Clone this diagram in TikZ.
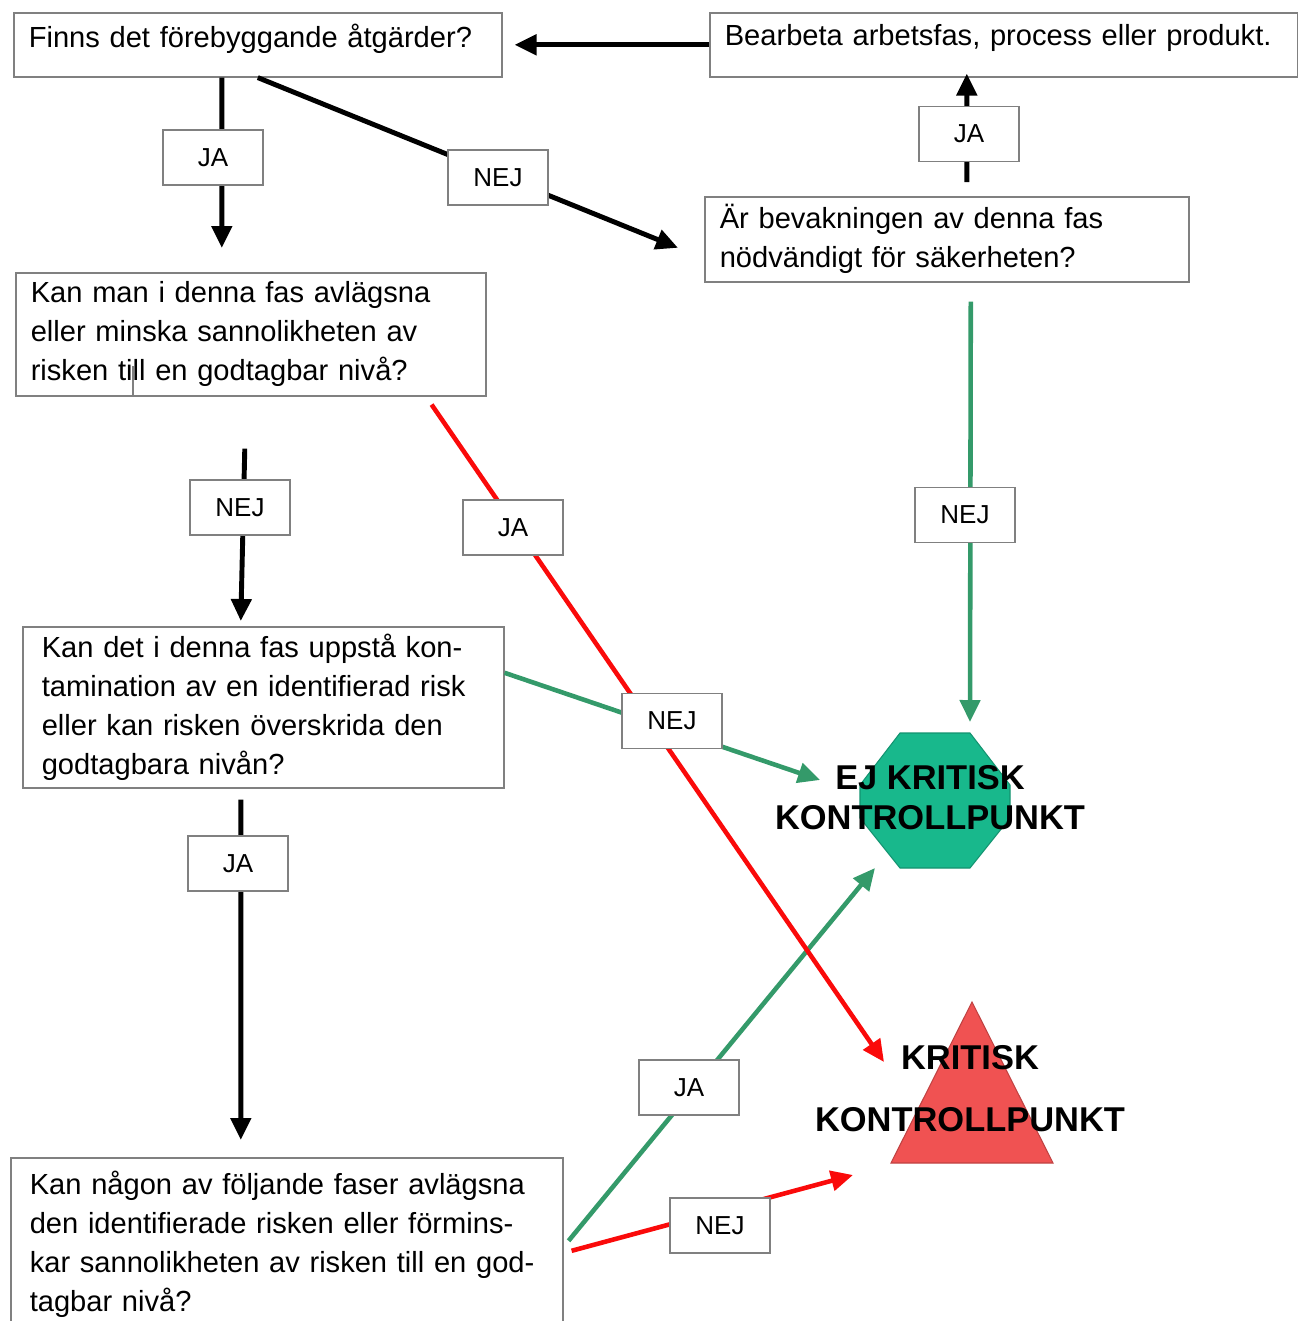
\documentclass[tikz,border=0pt]{standalone}
\usepackage{fontspec}
\setmainfont{Liberation Sans}
\usetikzlibrary{arrows.meta}

\definecolor{boxgray}{RGB}{128,128,128}
\definecolor{pathgreen}{RGB}{52,154,106}
\definecolor{octfill}{RGB}{24,184,140}
\definecolor{pathred}{RGB}{250,10,10}
\definecolor{trifill}{RGB}{240,82,82}

\begin{document}
\begin{tikzpicture}[
    qbox/.style={draw=boxgray, line width=0.45pt, anchor=north west, align=left, inner xsep=0.15cm, inner ysep=0pt, font=\fontsize{8.28}{11.1}\selectfont},
    ansbox/.style={draw=boxgray, line width=0.45pt, fill=white, minimum width=1cm, minimum height=0.55cm, inner sep=0pt, font=\fontsize{7.4}{9}\selectfont},
    bigtxt/.style={align=center, font=\bfseries\fontsize{9.8}{11.4}\selectfont},
    blk/.style={line width=1.4pt, -{Triangle[length=0.22cm,width=0.2cm]}},
    grn/.style={pathgreen, line width=1.3pt, -{Triangle[length=0.22cm,width=0.2cm]}},
    rd/.style={pathred, line width=1.3pt, -{Triangle[length=0.22cm,width=0.2cm]}}
]
        \useasboundingbox (0,0) rectangle (12.98,-13.21);

        \node[qbox, text width=4.58cm, minimum height=0.64cm, text depth=0.19cm] (q1) at (0.13,-0.12) {Finns det förebyggande åtgärder?};
        \node[qbox, text width=5.58cm, minimum height=0.64cm, text depth=0.19cm] (q2) at (7.09,-0.12) {Bearbeta arbetsfas, process eller produkt.};
        \node[qbox, text width=4.54cm, minimum height=0.85cm] (q3) at (7.04,-1.96) {Är bevakningen av denna fas\\nödvändigt för säkerheten?};
        \node[qbox, text width=4.40cm, minimum height=1.23cm] (q4) at (0.15,-2.72) {Kan man i denna fas avlägsna\\eller minska sannolikheten av\\risken till en godtagbar nivå?};
        \draw[boxgray, line width=0.45pt] (1.33,-3.66) -- (1.33,-3.95);
        \node[qbox, inner xsep=0.19cm, text width=4.43cm, minimum height=1.61cm] (q5) at (0.22,-6.26) {Kan det i denna fas uppstå kon-\\tamination av en identifierad risk\\eller kan risken överskrida den\\godtagbara nivån?};
        \node[qbox, inner xsep=0.19cm, text width=5.14cm, minimum height=1.73cm] (q6) at (0.10,-11.57) {Kan någon av följande faser avlägsna\\den identifierade risken eller förmins-\\kar sannolikheten av risken till en god-\\tagbar nivå?};

        \coordinate (ejk) at (9.35,-8.005);
        \fill[octfill, draw=octfill!80!black, line width=0.3pt] (9.00,-7.33) -- (9.70,-7.33) -- (10.10,-7.85) -- (10.10,-8.18) -- (9.70,-8.68) -- (9.00,-8.68) -- (8.60,-8.18) -- (8.60,-7.85) -- cycle;
        \fill[trifill, draw=trifill!80!black, line width=0.3pt] (9.72,-10.02) coordinate (tritop) -- (10.53,-11.63) coordinate (triright) -- (8.91,-11.63) coordinate (trileft) -- cycle;
        \node[bigtxt] (ejktxt) at (9.30,-7.98) {EJ KRITISK\\KONTROLLPUNKT};
        \node[bigtxt, font=\bfseries\fontsize{9.8}{17.6}\selectfont] (kptxt) at (9.70,-10.89) {KRITISK\\KONTROLLPUNKT};

        \draw[blk] (q2.west) -- ([xshift=0.12cm]q1.east);
        \draw[blk] ([xshift=-0.36cm]q1.south) -- ([xshift=-0.29cm,yshift=0.24cm]q4.north);
        \draw[blk] (q1.south) -- ([xshift=-0.26cm,yshift=-0.085cm]q3.west);
        \draw[blk] ([xshift=0.2cm,yshift=0.14cm]q3.north) -- ([xshift=-0.37cm,yshift=0.04cm]q2.south);
        \draw[blk] ([xshift=-0.06cm,yshift=-0.52cm]q4.south) -- ([xshift=-0.225cm,yshift=0.05cm]q5.north);
        \draw[blk] ([xshift=-0.225cm,yshift=-0.11cm]q5.south) -- ([xshift=-0.46cm,yshift=0.17cm]q6.north);
        \draw[grn] ([xshift=0.24cm,yshift=-0.19cm]q3.south) -- ([xshift=0.35cm,yshift=0.785cm]ejk);
        \draw[grn] ([yshift=0.345cm]q5.east) -- ([xshift=-1.15cm,yshift=0.205cm]ejk);
        \draw[grn] ([xshift=0.05cm,yshift=0.035cm]q6.east) -- ([xshift=-0.60cm,yshift=-0.675cm]ejk);
        \draw[rd] ([xshift=-0.55cm,yshift=-0.08cm]q4.south east) -- ([xshift=-0.88cm,yshift=-0.60cm]tritop);
        \draw[rd] ([xshift=0.08cm,yshift=-0.065cm]q6.east) -- ([xshift=-0.38cm,yshift=-0.12cm]trileft);

        \node[ansbox] (ja1) at (2.13,-1.575) {JA};
        \node[ansbox] (nej1) at (4.98,-1.775) {NEJ};
        \node[ansbox] (ja2) at (9.69,-1.34) {JA};
        \node[ansbox] (nej2) at (2.40,-5.075) {NEJ};
        \node[ansbox] (ja3) at (5.13,-5.275) {JA};
        \node[ansbox] (nej3) at (9.65,-5.15) {NEJ};
        \node[ansbox] (nej4) at (6.72,-7.21) {NEJ};
        \node[ansbox] (ja4) at (2.38,-8.635) {JA};
        \node[ansbox] (ja5) at (6.89,-10.875) {JA};
        \node[ansbox] (nej5) at (7.20,-12.255) {NEJ};
    \end{tikzpicture}
\end{document}
